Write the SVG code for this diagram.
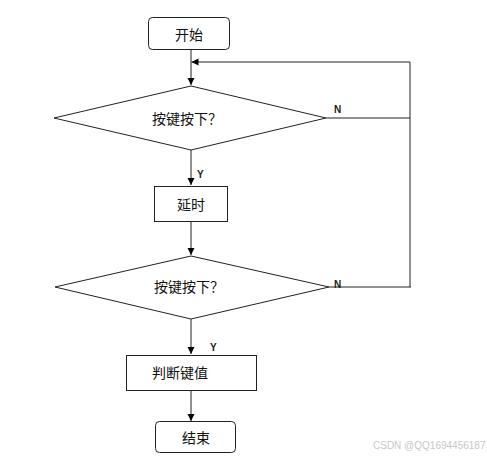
<svg xmlns="http://www.w3.org/2000/svg" width="487" height="457" viewBox="0 0 487 457">
<defs>
<marker id="arr" markerWidth="8" markerHeight="8" refX="7" refY="4" orient="auto" markerUnits="userSpaceOnUse">
<path d="M0,0.5 L7,4 L0,7.5 Z" fill="#000"/>
</marker>
</defs>
<style>
.shape{fill:#fff;stroke:#222;stroke-width:1}
.line{fill:none;stroke:#222;stroke-width:1}
.t{font-family:"Noto Sans CJK SC","Liberation Sans",sans-serif;font-size:14px;fill:#111;text-anchor:middle;dominant-baseline:central}
.lbl{font-family:"Liberation Sans",Arial,sans-serif;font-size:10px;font-weight:bold;fill:#222}
.wm{font-family:"Liberation Sans",Arial,sans-serif;font-size:10px;fill:#c8c8c8}
</style>
<rect width="487" height="457" fill="#fff"/>
<g id="connectors">
<line class="line" x1="191" y1="50" x2="191" y2="85" marker-end="url(#arr)"/>
<polyline class="line" points="326,118 410,118"/>
<polyline class="line" points="410,287 410,62 191.5,62" marker-end="url(#arr)"/>
<line class="line" x1="191" y1="150" x2="191" y2="185" marker-end="url(#arr)"/>
<line class="line" x1="191" y1="222" x2="191" y2="255" marker-end="url(#arr)"/>
<polyline class="line" points="329,287 411,287"/>
<line class="line" x1="191" y1="319" x2="191" y2="354" marker-end="url(#arr)"/>
<line class="line" x1="191" y1="391" x2="191" y2="421" marker-end="url(#arr)"/>
<text class="lbl" x="334" y="113">N</text>
<text class="lbl" x="197" y="178">Y</text>
<text class="lbl" x="334" y="288">N</text>
<text class="lbl" x="210" y="351">Y</text>
</g>
<g id="start">
<rect class="shape" x="148.5" y="17.5" width="81" height="32" rx="4"/>
<text class="t" x="189" y="34">开始</text>
</g>
<g id="decision1">
<polygon class="shape" points="191,86 326,118 191,150 54,118"/>
<text class="t" x="187" y="118">按键按下？</text>
</g>
<g id="delay">
<rect class="shape" x="154.5" y="186.5" width="73" height="35"/>
<text class="t" x="191" y="204">延时</text>
</g>
<g id="decision2">
<polygon class="shape" points="191,256 329,287 191,319 55,287"/>
<text class="t" x="189" y="286">按键按下？</text>
</g>
<g id="judge">
<rect class="shape" x="126.5" y="355.5" width="130" height="35"/>
<text class="t" x="180" y="372">判断键值</text>
</g>
<g id="end">
<rect class="shape" x="155.5" y="421.5" width="80" height="31" rx="4"/>
<text class="t" x="196" y="437">结束</text>
</g>
<text class="wm" x="373" y="449">CSDN @QQ1694456187</text>
</svg>
